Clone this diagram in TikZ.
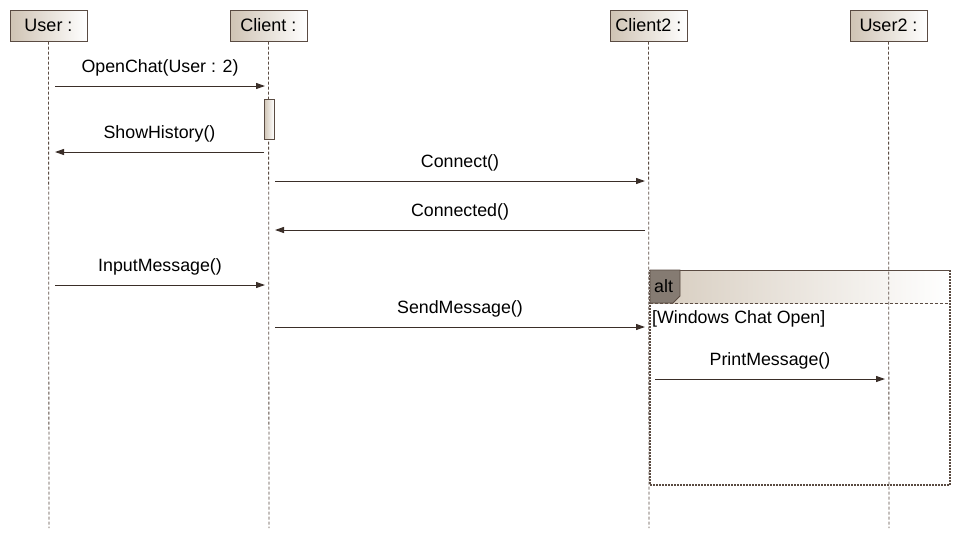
\documentclass[tikz,border=0pt]{standalone}
\usepackage{fontspec}
\setmainfont{Liberation Sans}
\usetikzlibrary{arrows.meta}
\definecolor{edge}{HTML}{5A4B42}
\definecolor{tan}{HTML}{CFC3B3}
\definecolor{tabc}{HTML}{857B72}
\definecolor{msg}{HTML}{3A2E28}
\tikzset{
  x=1pt,y=-1pt,
  headbox/.style={draw=edge,line width=1pt,left color=tan,right color=white,minimum width=77pt,minimum height=31pt,inner sep=0pt,font=\fontsize{18}{21}\selectfont,text=black},
  life/.style={draw=edge,line width=0.8pt,dash pattern=on 3pt off 2pt},
  msgline/.style={draw=msg,line width=1pt,-{Triangle[length=9pt,width=6pt]}},
  lbl/.style={font=\fontsize{17.8}{21}\selectfont,text=black,inner sep=0pt},
  mlbl/.style={lbl,anchor=base,yshift=14pt},
}
\begin{document}
\begin{tikzpicture}
\useasboundingbox[fill=white] (0,0) rectangle (961,539);
% heads
\node[headbox] (u) at (48.5,25.5) {User :};
\node[headbox] (c) at (268.5,25.5) {Client :};
\node[headbox] (c2) at (648.5,25.5) {Client2 :};
\node[headbox] (u2) at (888.5,25.5) {User2 :};
\coordinate (ue) at (49,528);
\coordinate (ce) at (269,528);
\coordinate (c2e) at (649,528);
\coordinate (u2e) at (889,528);
% alt frame background
\shade[left color=tan!85,right color=white] (650,270) rectangle (950,303);
% lifelines
\draw[life] (u.south) -- (ue);
\draw[life] (c.south) -- (ce);
\draw[life] (c2.south) -- (c2e);
\draw[life] (u2.south) -- (u2e);
% activation
\node[draw=edge,line width=1pt,left color=tan,right color=white,minimum width=10pt,minimum height=40pt,inner sep=0pt] (act) at (269,119) {};
% messages
\coordinate (m1a) at (55,86); \coordinate (m1b) at (265,86);
\draw[msgline] (m1a) -- node[mlbl] (l1) {OpenChat(User : 2)} (m1b);
\coordinate (m2a) at (264,152); \coordinate (m2b) at (55,152);
\draw[msgline] (m2a) -- node[mlbl] (l2) {ShowHistory()} (m2b);
\coordinate (m3a) at (275,181); \coordinate (m3b) at (645,181);
\draw[msgline] (m3a) -- node[mlbl] (l3) {Connect()} (m3b);
\coordinate (m4a) at (645,230); \coordinate (m4b) at (275,230);
\draw[msgline] (m4a) -- node[mlbl] (l4) {Connected()} (m4b);
\coordinate (m5a) at (55,285); \coordinate (m5b) at (265,285);
\draw[msgline] (m5a) -- node[mlbl] (l5) {InputMessage()} (m5b);
\coordinate (m6a) at (275,327); \coordinate (m6b) at (645,327);
\draw[msgline] (m6a) -- node[mlbl] (l6) {SendMessage()} (m6b);
\coordinate (m7a) at (655,379); \coordinate (m7b) at (885,379);
\draw[msgline] (m7a) -- node[mlbl] (l7) {PrintMessage()} (m7b);
% alt frame
\draw[edge,line width=1pt] (650,270) -- (950,270);
\draw[edge,line width=1.2pt,dash pattern=on 2pt off 1pt] (950,270) -- (950,485) -- (650,485) -- (650,270);
\draw[edge,line width=0.8pt,dash pattern=on 3pt off 2pt] (650,303) -- (950,303);
\fill[tabc,draw=edge,line width=0.8pt] (650,270) -- (680,270) -- (680,296) -- (673,303) -- (650,303) -- cycle;
\node[lbl,anchor=base west] (alt) at (654,292) {alt};
\node[lbl,anchor=base west] (guard) at (652,323) {[Windows Chat Open]};
\end{tikzpicture}
\end{document}
